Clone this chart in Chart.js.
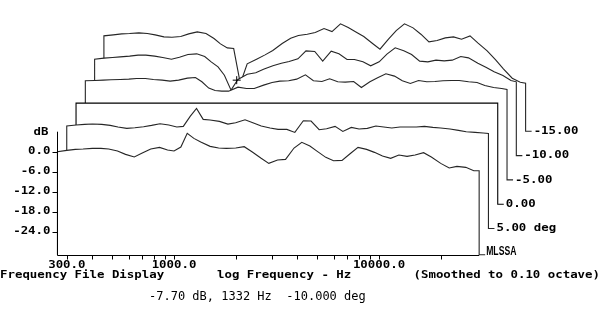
<!DOCTYPE html>
<html>
<head>
<meta charset="utf-8">
<script src="https://cdn.jsdelivr.net/npm/chart.js@4.4.1/dist/chart.umd.min.js"></script>
<style>
  body { margin: 0; background: #fff; }
  #wrap { position: relative; width: 600px; height: 328px; }
</style>
</head>
<body>
<div id="wrap"><canvas id="plot"></canvas></div>
<script>
// frequency points in Hz, shared by every curve
const freqs = [270, 300, 330, 360, 400, 440, 480, 530, 580, 640,
  700, 770, 850, 930, 1000, 1080, 1160, 1250, 1350, 1500,
  1650, 1800, 2000, 2200, 2400, 2650, 2900, 3200, 3500, 3850,
  4200, 4600, 5000, 5500, 6000, 6600, 7200, 7900, 8700, 9500,
  10400, 11400, 12500, 13700, 15000, 16500, 18000, 20000, 22000, 24000,
  26500, 29000, 30800];

// response in dB of each curve, front one first
const resp10 = [0.0, 0.4, 0.7, 0.8, 1.0, 1.0, 0.8, 0.2, -0.8, -1.6,
  -0.4, 0.8, 1.3, 0.5, 0.2, 1.4, 5.5, 4.0, 2.9, 1.6,
  1.1, 1.0, 1.1, 1.5, 0.0, -1.9, -3.5, -2.5, -2.3, 1.1,
  2.8, 1.7, 0.1, -1.7, -2.7, -2.6, -0.7, 1.3, 0.7, -0.2,
  -1.3, -2.0, -1.0, -1.4, -1.0, -0.3, -1.6, -3.5, -4.9, -4.4,
  -4.7, -5.7, -5.7];
const resp5 = [0.4, 0.7, 0.9, 1.0, 0.9, 0.6, 0.1, -0.3, -0.1, 0.2,
  0.6, 1.1, 0.7, 0.1, 0.3, 3.3, 5.7, 2.4, 2.2, 1.8,
  1.0, 1.4, 2.3, 1.3, 0.4, -0.2, -0.6, -0.6, -1.5, 2.0,
  1.9, -0.7, -0.4, 0.3, -1.2, 0.0, -0.5, -0.3, 0.4, 0.1,
  -0.2, 0.1, 0.1, 0.1, 0.3, 0.0, -0.2, -0.5, -0.9, -1.3,
  -1.5, -1.7, -1.8];
const resp0 = [0, 0, 0, 0, 0, 0, 0, 0, 0, 0,
  0, 0, 0, 0, 0, 0, 0, 0, 0, 0,
  0, 0, 0, 0, 0, 0, 0, 0, 0, 0,
  0, 0, 0, 0, 0, 0, 0, 0, 0, 0,
  0, 0, 0, 0, 0, 0, 0, 0, 0, 0,
  0, 0, 0];
const respM5 = [-0.6, -0.5, -0.4, -0.3, -0.2, -0.1, 0.1, 0.1, -0.2, -0.4,
  -0.7, -0.4, 0.2, 0.4, -0.9, -2.8, -3.5, -3.7, -3.7, -2.5,
  -2.9, -2.9, -1.9, -1.1, -0.7, -0.6, -0.1, 1.2, -0.6, -0.8,
  0.0, -0.9, -1.0, -0.8, -2.6, -0.9, 0.3, 1.5, 0.8, -0.6,
  -1.4, -0.5, -0.9, -0.8, -0.6, -0.5, -0.5, -0.9, -1.1, -2.0,
  -2.6, -2.9, -3.2];
const respM10 = [-1.4, -1.1, -0.9, -0.7, -0.5, -0.2, -0.2, -0.5, -0.9, -1.4,
  -0.8, 0.0, 0.2, -0.6, -2.2, -3.7, -6.2, -10.7, -7.5, -5.9,
  -5.5, -4.4, -3.4, -2.6, -2.1, -1.3, 1.1, 0.9, -2.0, 1.0,
  0.2, -1.5, -1.5, -2.2, -3.4, -2.2, 0.1, 2.0, 1.1, 0.0,
  -2.0, -2.2, -1.7, -1.9, -1.7, -0.6, -1.0, -2.6, -3.9, -5.2,
  -6.3, -7.8, -8.2];
const respM15 = [-1.7, -1.4, -1.1, -1.0, -0.8, -1.0, -1.4, -2.0, -2.1, -1.9,
  -1.1, -0.5, -1.0, -2.5, -4.1, -5.3, -5.5, -16.0, -10.1, -8.7,
  -7.4, -6.1, -4.0, -2.4, -1.6, -1.2, -0.7, 0.5, -0.4, 1.9,
  0.8, -0.6, -1.9, -3.9, -5.7, -2.7, -0.1, 1.9, 0.7, -1.2,
  -3.5, -3.1, -2.3, -2.0, -2.7, -1.7, -3.8, -6.2, -8.9, -11.6,
  -14.4, -15.6, -15.9];

const angles = [10, 5, 0, -5, -10, -15];
const yTicks = [0, -6, -12, -18, -24];
const xTicks = [300, 400, 500, 600, 700, 800, 900, 1000, 2000, 3000, 4000,
  5000, 6000, 7000, 8000, 9000, 10000, 20000];
const xLabels = [300, 1000, 10000];

// cursor readout
const cursorFreq = 1332;
const cursorDb = -7.70;
const cursorCurve = 4;

// waterfall offsets: each curve further back moves right and up
const STEP_X = 1.11;
const STEP_Y = 7.29;
const AXIS_TOP = 6;
const AXIS_BOTTOM = -30.9;
const FLOOR = -30.33;
const TAIL = 1.07;

const curves = [resp10, resp5, resp0, respM5, respM10, respM15];
const lastF = freqs[freqs.length - 1];

const datasets = curves.map(function (vals, k) {
  const sx = Math.pow(STEP_X, k);
  const dy = k * STEP_Y;
  const floor = k === 0 ? AXIS_BOTTOM : FLOOR + dy;
  const pts = [{ x: freqs[0] * sx, y: floor }];
  vals.forEach(function (v, i) { pts.push({ x: freqs[i] * sx, y: v + dy }); });
  pts.push({ x: lastF * sx, y: floor });
  pts.push({ x: lastF * sx * TAIL, y: floor });
  return {
    data: pts,
    borderColor: k === 2 ? '#000' : '#262626',
    borderWidth: 1.1,
    pointRadius: 0,
    tension: 0,
    fill: { value: floor },
    backgroundColor: '#fff'
  };
});

// the "+" cursor sits on top of everything
datasets.unshift({
  data: [{ x: cursorFreq * Math.pow(STEP_X, cursorCurve), y: cursorDb + cursorCurve * STEP_Y }],
  showLine: false,
  pointStyle: 'cross',
  pointRadius: 4,
  borderColor: '#000',
  borderWidth: 1,
  fill: false
});

function txt(ctx, s, px, py, align, font, sy, sx) {
  ctx.save();
  ctx.translate(px, py);
  ctx.scale(sx || 1, sy);
  ctx.font = font;
  ctx.textAlign = align;
  ctx.textBaseline = 'middle';
  ctx.fillText(s, 0, 0);
  ctx.restore();
}

const MONO_B = 'bold 12.4px "DejaVu Sans Mono"';
const SQ = 0.85;

const decor = {
  id: 'decor',
  afterDatasetsDraw(chart) {
    const ctx = chart.ctx;
    const x = chart.scales.x, y = chart.scales.y;
    const x0 = Math.round(x.getPixelForValue(freqs[0])) + 0.5;
    const x1 = x.getPixelForValue(lastF);
    const yb = Math.round(y.getPixelForValue(AXIS_BOTTOM)) + 0.5;
    const yt = y.getPixelForValue(AXIS_TOP);

    ctx.save();
    ctx.strokeStyle = '#000';
    ctx.lineWidth = 1;
    ctx.beginPath();
    ctx.moveTo(x0, yt);
    ctx.lineTo(x0, yb);
    ctx.lineTo(x1, yb);
    yTicks.forEach(function (v) {
      const py = Math.round(y.getPixelForValue(v)) + 0.5;
      ctx.moveTo(x0 - 5, py);
      ctx.lineTo(x0, py);
    });
    xTicks.forEach(function (f) {
      const px = Math.round(x.getPixelForValue(f)) + 0.5;
      ctx.moveTo(px, yb);
      ctx.lineTo(px, yb + 4);
    });
    ctx.stroke();

    ctx.fillStyle = '#000';
    txt(ctx, 'dB', x0 - 9, y.getPixelForValue(AXIS_TOP) + 1, 'right', MONO_B, SQ);
    yTicks.forEach(function (v) {
      txt(ctx, v.toFixed(1), x0 - 7, y.getPixelForValue(v), 'right', MONO_B, SQ);
    });
    xLabels.forEach(function (f) {
      txt(ctx, f.toFixed(1), x.getPixelForValue(f), yb + 10, 'center', MONO_B, SQ);
    });
    txt(ctx, 'Frequency File Display', 0, yb + 19.5, 'left', MONO_B, SQ);
    txt(ctx, 'log Frequency - Hz', 217, yb + 19.5, 'left', MONO_B, SQ);
    txt(ctx, '(Smoothed to 0.10 octave)', 600, yb + 19.5, 'right', MONO_B, SQ);

    // angle labels at the end of each curve
    curves.forEach(function (vals, k) {
      const sx = Math.pow(STEP_X, k);
      const px = x.getPixelForValue(lastF * sx * TAIL);
      if (k === 0) {
        txt(ctx, 'MLSSA', px + 1, yb - 4, 'left', 'bold 12px "Liberation Sans"', 1, 0.72);
      } else {
        const lab = angles[k].toFixed(2) + (k === 1 ? ' deg' : '');
        txt(ctx, lab, px + 2, y.getPixelForValue(FLOOR + k * STEP_Y), 'left', MONO_B, SQ);
      }
    });

    const readout = cursorDb.toFixed(2) + ' dB, ' + cursorFreq + ' Hz  ' +
      angles[cursorCurve].toFixed(3) + ' deg';
    txt(ctx, readout, 149, yb + 41, 'left', '12px "DejaVu Sans Mono"', 1.05);
    ctx.restore();
  }
};

new Chart(document.getElementById('plot'), {
  type: 'line',
  data: { datasets: datasets },
  options: {
    responsive: true,
    maintainAspectRatio: false,
    animation: false,
    events: [],
    layout: { padding: 0, autoPadding: false },
    plugins: {
      legend: { display: false },
      tooltip: { enabled: false },
      filler: { drawTime: 'beforeDatasetDraw' }
    },
    scales: {
      x: { type: 'logarithmic', display: false, min: 141.6, max: 119700, bounds: 'data' },
      y: { type: 'linear', display: false, min: -52.89, max: 45.51 }
    }
  },
  plugins: [decor]
});
</script>
</body>
</html>
